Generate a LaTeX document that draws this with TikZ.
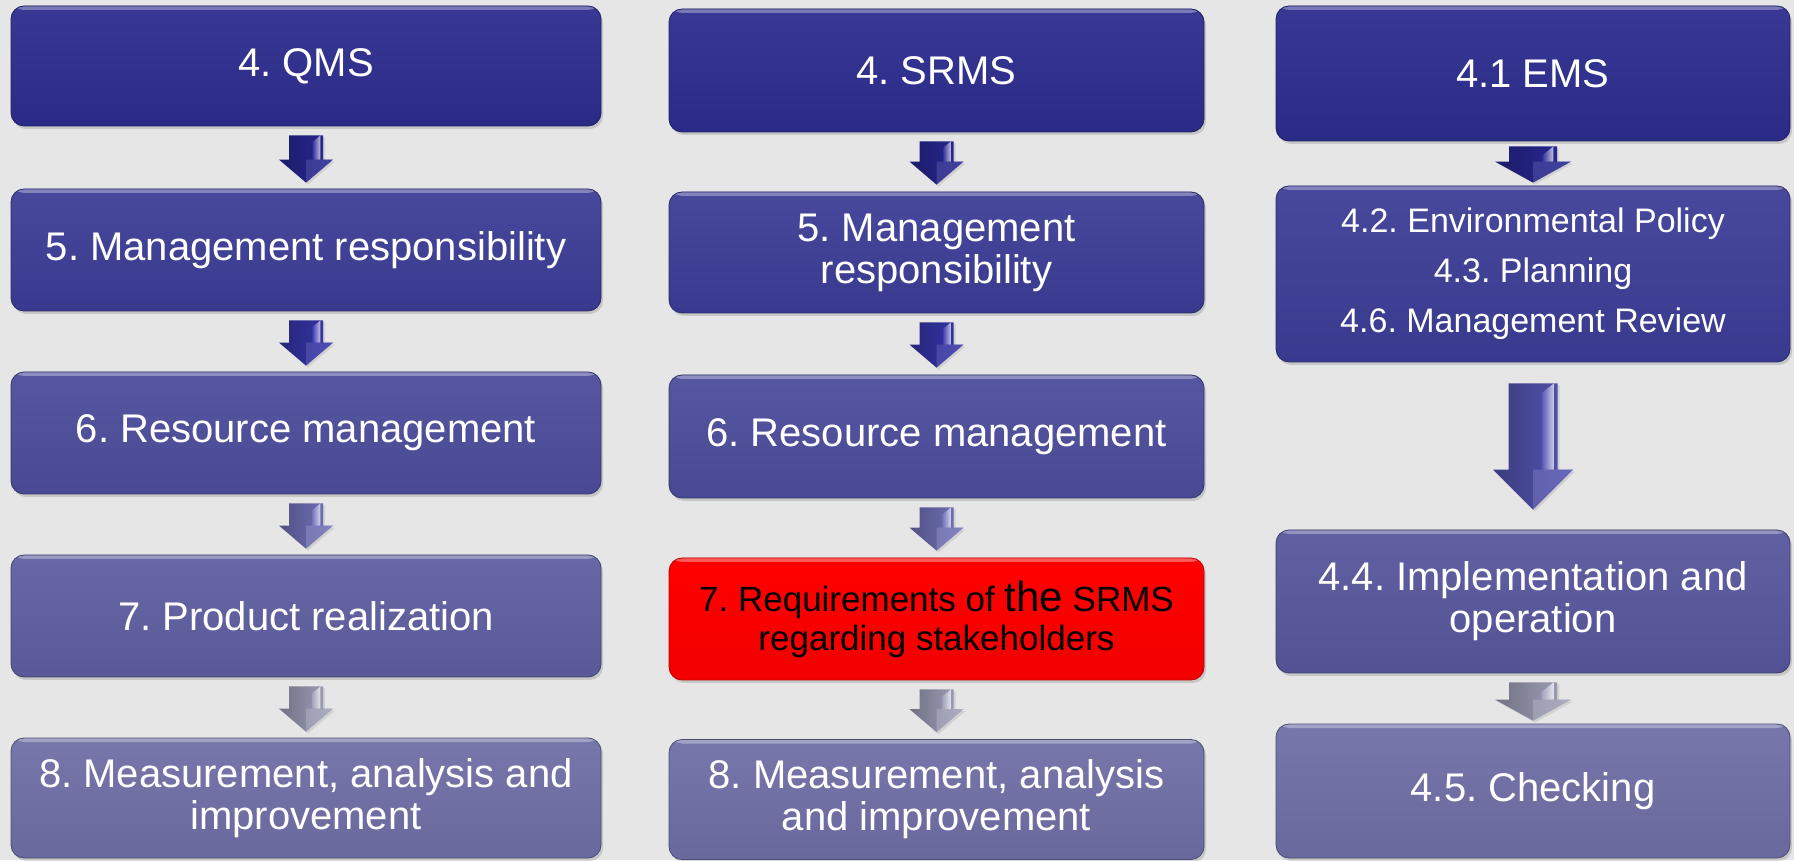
\documentclass[tikz,border=0pt]{standalone}
\usepackage{fontspec}
\setmainfont{Liberation Sans}
\usetikzlibrary{calc,shadows}
\definecolor{bg}{RGB}{230,230,230}
\definecolor{cA}{RGB}{44,44,142}
\definecolor{cB}{RGB}{60,60,150}
\definecolor{cC}{RGB}{76,76,155}
\definecolor{cD}{RGB}{94,94,160}
\definecolor{cE}{RGB}{110,110,166}
\definecolor{cF}{RGB}{86,86,156}
\definecolor{redbox}{RGB}{255,0,0}
\definecolor{arA}{RGB}{40,40,150}
\definecolor{arB}{RGB}{54,54,172}
\definecolor{arC}{RGB}{115,115,188}
\definecolor{arD}{RGB}{162,162,188}
\definecolor{arE}{RGB}{85,85,180}
\newcommand\blockarrow[8]{%
  \path[left color=#8!70!black, right color=#8, drop shadow={shadow xshift=2pt,shadow yshift=-2pt,opacity=.2}]
    let \p1=(#1.south), \p2=(#2.north) in
    (\x1-#5,\y1-#3) -- (\x1+#5,\y1-#3) -- (\x1+#5,\y2+#4+#7) -- (\x1+#6,\y2+#4+#7)
    -- (\x1,\y2+#4) -- (\x1-#6,\y2+#4+#7) -- (\x1-#5,\y2+#4+#7) -- cycle;
  \path[left color=#8, right color=#8!30!white]
    let \p1=(#1.south), \p2=(#2.north) in
    (\x1+0.35*#5,\y1-#3-0.4*#5) -- (\x1+0.85*#5,\y1-#3) -- (\x1+0.85*#5,\y2+#4+#7)
    -- (\x1+0.35*#5,\y2+#4+#7) -- cycle;
  \fill[#8!75!white, opacity=.45]
    let \p1=(#1.south), \p2=(#2.north) in
    (\x1,\y2+#4+#7) -- (\x1+#6,\y2+#4+#7) -- (\x1,\y2+#4) -- cycle;
}
\begin{document}
\frenchspacing
\begin{tikzpicture}[x=1pt,y=1pt,
  box/.style={rectangle, rounded corners=13pt, draw=#1!70!black, line width=0.8pt,
    top color=#1!94!white, bottom color=#1!95!black, text=white, align=center,
    font=\fontsize{40}{42}\selectfont, inner sep=0pt,
    drop shadow={shadow xshift=2pt, shadow yshift=-3pt, opacity=.3},
    path picture={\fill[#1!50!white, opacity=.7] (path picture bounding box.north west)
      rectangle ([yshift=-4pt]path picture bounding box.north east);}},
  wA/.style={minimum width=590pt},
  wB/.style={minimum width=535pt},
  wC/.style={minimum width=514pt}]
\fill[bg] (0,0) rectangle (1794,860);
\useasboundingbox (0,0) rectangle (1794,860);
% column 1
\node[box=cA, wA, minimum height=120pt] (q1) at (306,794) {4. QMS};
\node[box=cB, wA, minimum height=122pt] (q2) at (306,610) {5. Management responsibility};
\node[box=cC, wA, minimum height=122pt] (q3) at (306,427) {6. Resource management};
\node[box=cD, wA, minimum height=122pt] (q4) at (306,244) {7. Product realization};
\node[box=cE, wA, minimum height=120pt] (q5) at (306,62) {8. Measurement, analysis and\\improvement};
% column 2
\node[box=cA, wB, minimum height=123pt] (s1) at (936.5,789.5) {4. SRMS};
\node[box=cB, wB, minimum height=121pt] (s2) at (936.5,607.5) {5. Management\\responsibility};
\node[box=cC, wB, minimum height=123pt] (s3) at (936.5,423.5) {6. Resource management};
\node[box=redbox, wB, minimum height=122pt, top color=redbox, bottom color=redbox!95!black,
  draw=redbox!75!black, text=black, font=\fontsize{35}{39}\selectfont] (s4) at (936.5,241)
  {7. Requirements of {\fontsize{42}{39}\selectfont the} SRMS\\regarding stakeholders};
\node[box=cE, wB, minimum height=120pt] (s5) at (936.5,60.5) {8. Measurement, analysis\\and improvement};
% column 3
\node[box=cA, wC, minimum height=135pt] (e1) at (1533,786.5) {4.1 EMS};
\node[box=cB, wC, minimum height=176pt, font=\fontsize{34}{50}\selectfont] (e2) at (1533,586)
  {4.2. Environmental Policy\\4.3. Planning\\4.6. Management Review};
\node[box=cF, wC, minimum height=143pt] (e3) at (1533,258.5) {4.4. Implementation and\\operation};
\node[box=cE, wC, minimum height=134pt] (e4) at (1533,69) {4.5. Checking};
% arrows column 1
\blockarrow{q1}{q2}{9}{6}{17}{27}{23}{arA}
\blockarrow{q2}{q3}{9}{6}{17}{27}{23}{arB}
\blockarrow{q3}{q4}{9}{6}{17}{27}{23}{arC}
\blockarrow{q4}{q5}{9}{6}{17}{27}{23}{arD}
% arrows column 2
\blockarrow{s1}{s2}{9}{7}{17}{27}{23}{arA}
\blockarrow{s2}{s3}{9}{7}{17}{27}{23}{arB}
\blockarrow{s3}{s4}{9}{7}{17}{27}{23}{arC}
\blockarrow{s4}{s5}{9}{7}{17}{27}{23}{arD}
% arrows column 3
\blockarrow{e1}{e2}{5}{3}{24}{38}{21}{arA}
\blockarrow{e2}{e3}{21}{20}{24.5}{40}{40}{arE}
\blockarrow{e3}{e4}{9}{3}{24}{38}{21}{arD}
\end{tikzpicture}
\end{document}
